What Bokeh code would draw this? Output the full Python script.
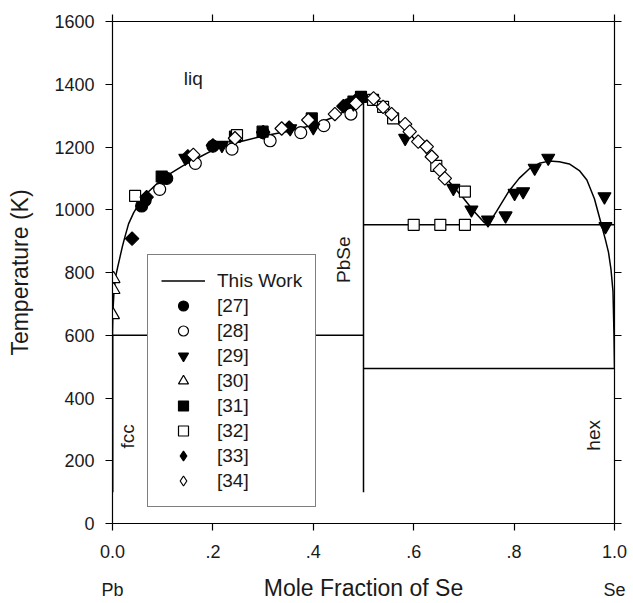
import math
from bokeh.plotting import figure
from bokeh.models import Range1d, LinearAxis, FixedTicker, Legend, LegendItem, Label
from bokeh.embed import file_html
from bokeh.resources import INLINE

FONT = "Liberation Sans"

# ---------------- data ----------------
x_ticks = [0.0, 0.2, 0.4, 0.6, 0.8, 1.0]
x_tick_labels = ["0.0\nPb", ".2", ".4", ".6", ".8", "1.0\nSe"]
y_ticks = [0, 200, 400, 600, 800, 1000, 1200, 1400, 1600]

# This Work: calculated phase boundaries
liq_left_x = [0.0, 0.001, 0.003, 0.006, 0.01, 0.015, 0.02, 0.025, 0.032, 0.042, 0.055, 0.07,
              0.09, 0.11, 0.14, 0.17, 0.2, 0.25, 0.3, 0.35, 0.4, 0.44, 0.47, 0.49, 0.5]
liq_left_T = [600, 680, 740, 785, 815, 850, 885, 915, 955, 990, 1025, 1055,
              1085, 1110, 1140, 1165, 1190, 1215, 1235, 1250, 1270, 1295, 1320, 1340, 1358]
liq_right_x = [0.5, 0.52, 0.54, 0.56, 0.58, 0.6, 0.62, 0.64, 0.66, 0.68, 0.7, 0.72, 0.74, 0.748]
liq_right_T = [1358, 1350, 1330, 1300, 1265, 1228, 1190, 1150, 1110, 1072, 1035, 995, 960, 952]
gap_x = [0.748, 0.765, 0.79, 0.81, 0.83, 0.85, 0.87, 0.89, 0.91, 0.93, 0.945, 0.96, 0.974,
         0.982, 0.988, 0.993, 0.997, 0.999, 1.0]
gap_T = [952, 995, 1060, 1100, 1130, 1148, 1155, 1153, 1146, 1125, 1095, 1035, 952,
         904, 865, 810, 740, 600, 494]
eut_pb_x = [0.0, 0.5]
eut_pb_T = [600, 600]
mono_x = [0.5, 1.0]
mono_T = [952, 952]
eut_se_x = [0.5, 1.0]
eut_se_T = [494, 494]
pbse_x = [0.5, 0.5]
pbse_T = [100, 1358]
fcc_x = [0.0, 0.0]
fcc_T = [100, 600]

# Experimental data
r27_x = [0.058, 0.065, 0.100, 0.108, 0.200, 0.300, 0.470, 0.490]
r27_T = [1012, 1030, 1100, 1100, 1203, 1246, 1335, 1352]
r28_x = [0.094, 0.165, 0.238, 0.314, 0.375, 0.421, 0.475]
r28_T = [1065, 1148, 1193, 1220, 1246, 1268, 1305]
r29_x = [0.145, 0.218, 0.354, 0.400, 0.480, 0.583, 0.679, 0.715, 0.748, 0.783, 0.801,
         0.818, 0.841, 0.868, 0.980, 0.982]
r29_T = [1165, 1206, 1259, 1262, 1338, 1228, 1069, 1000, 968, 981, 1053,
         1058, 1133, 1165, 1042, 947]
r30_x = [0.002, 0.002, 0.001]
r30_T = [780, 745, 665]
r31_x = [0.098, 0.244, 0.299, 0.397, 0.480, 0.495]
r31_T = [1106, 1233, 1249, 1291, 1345, 1360]
r32_x = [0.045, 0.248, 0.519, 0.539, 0.559, 0.645, 0.702, 0.600, 0.653, 0.702]
r32_T = [1044, 1238, 1350, 1328, 1291, 1140, 1058, 952, 952, 952]
r33_x = [0.039, 0.068, 0.150, 0.200, 0.300, 0.352, 0.460, 0.490]
r33_T = [908, 1040, 1170, 1205, 1247, 1262, 1330, 1355]
r34_x = [0.161, 0.244, 0.337, 0.390, 0.443, 0.485, 0.520, 0.539, 0.556, 0.583, 0.592,
         0.609, 0.626, 0.636, 0.652, 0.662]
r34_T = [1175, 1228, 1259, 1286, 1305, 1339, 1355, 1328, 1305, 1273, 1249,
         1217, 1201, 1169, 1127, 1100]

# ---------------- figure ----------------
p = figure(width=633, height=603, output_backend="svg", toolbar_location=None,
           x_range=Range1d(0, 1), y_range=Range1d(0, 1600),
           min_border_left=112, min_border_right=19, min_border_top=21, min_border_bottom=79)
p.outline_line_color = None
p.xgrid.visible = False
p.ygrid.visible = False
p.background_fill_color = "white"
p.border_fill_color = "white"

TXT = "#1a1a1a"


def style_axis(ax, ticks, show_labels=True):
    ax.ticker = FixedTicker(ticks=ticks)
    ax.axis_line_color = "black"
    ax.axis_line_width = 1.2
    ax.major_tick_line_color = "black"
    ax.major_tick_line_width = 1.2
    ax.major_tick_in = 0
    ax.major_tick_out = 7
    ax.minor_tick_line_color = None
    ax.major_label_text_font = FONT
    ax.major_label_text_color = TXT
    if show_labels:
        ax.major_label_text_font_size = "18px"
        ax.major_label_standoff = 11
    else:
        ax.major_label_overrides = {t: "" for t in ticks}
        ax.major_label_text_font_size = "1px"
        ax.major_label_standoff = 0


xa = p.xaxis[0]
style_axis(xa, x_ticks)
xa.major_label_overrides = {t: s for t, s in zip(x_ticks, x_tick_labels)}
xa.major_label_standoff = 11
xa.major_label_text_line_height = 1.9
xa.axis_label = "Mole Fraction of Se"
xa.axis_label_text_font = FONT
xa.axis_label_text_font_size = "23px"
xa.axis_label_text_font_style = "normal"
xa.axis_label_text_color = TXT
xa.axis_label_standoff = -28

ya = p.yaxis[0]
style_axis(ya, y_ticks)
ya.axis_label = "Temperature (K)"
ya.axis_label_text_font = FONT
ya.axis_label_text_font_size = "23px"
ya.axis_label_text_font_style = "normal"
ya.axis_label_text_color = TXT
ya.axis_label_standoff = 18

top = LinearAxis()
style_axis(top, x_ticks, show_labels=False)
p.add_layout(top, "above")
right = LinearAxis()
style_axis(right, y_ticks, show_labels=False)
p.add_layout(right, "right")

# ---------------- lines (This Work) ----------------
LW = 1.5
line_r = p.line(liq_left_x, liq_left_T, line_color="black", line_width=LW)
p.line(liq_right_x, liq_right_T, line_color="black", line_width=LW)
p.line(gap_x, gap_T, line_color="black", line_width=LW)
p.line(eut_pb_x, eut_pb_T, line_color="black", line_width=LW)
p.line(mono_x, mono_T, line_color="black", line_width=LW)
p.line(eut_se_x, eut_se_T, line_color="black", line_width=LW)
p.line(pbse_x, pbse_T, line_color="black", line_width=LW)
p.line(fcc_x, fcc_T, line_color="black", line_width=2)

# ---------------- experimental points ----------------
specs = [
    ("[27]", r27_x, r27_T, "circle", 12, "black", 0),
    ("[28]", r28_x, r28_T, "circle", 12, "white", 0),
    ("[29]", r29_x, r29_T, "inverted_triangle", 13, "black", 0),
    ("[30]", r30_x, r30_T, "triangle", 13, "white", 0),
    ("[31]", r31_x, r31_T, "square", 11, "black", 0),
    ("[32]", r32_x, r32_T, "square", 11, "white", 0),
    ("[33]", r33_x, r33_T, "square", 9.5, "black", math.pi / 4),
    ("[34]", r34_x, r34_T, "square", 9.5, "white", math.pi / 4),
]
items = [LegendItem(label="This Work", renderers=[line_r])]
for label, xs, ts, marker, size, fill, ang in specs:
    leg_r = None
    if ang:
        # the legend ignores marker angle: a diamond glyph (hidden beneath the
        # rotated squares) provides the legend swatch
        leg_r = p.scatter(xs, ts, marker="diamond", size=10, fill_color=fill,
                          line_color="black", line_width=1.2)
    r = p.scatter(xs, ts, marker=marker, size=size, fill_color=fill, line_color="black",
                  line_width=1.2, angle=ang)
    items.append(LegendItem(label=label, renderers=[leg_r if leg_r is not None else r]))

legend = Legend(items=items, location=(35, 16))
legend.label_text_font = FONT
legend.label_text_font_size = "19px"
legend.label_text_color = TXT
legend.glyph_width = 44
legend.glyph_height = 25
legend.label_height = 25
legend.spacing = 0
legend.label_standoff = 12
legend.padding = 13
legend.margin = 0
legend.border_line_color = "black"
legend.border_line_width = 1.2
legend.background_fill_color = "white"
legend.background_fill_alpha = 1.0
p.add_layout(legend)

# ---------------- annotations ----------------
def add_label(x, y, text, angle=0.0, size="19px"):
    p.add_layout(Label(x=x, y=y, text=text, angle=angle, text_font=FONT,
                       text_font_size=size, text_color=TXT,
                       text_align="center", text_baseline="middle"))


add_label(0.161, 1418, "liq")
add_label(0.461, 841, "PbSe", math.pi / 2)
add_label(0.030, 278, "fcc", math.pi / 2)
add_label(0.959, 281, "hex", math.pi / 2)

open("out.html", "w").write(file_html(p, INLINE))
